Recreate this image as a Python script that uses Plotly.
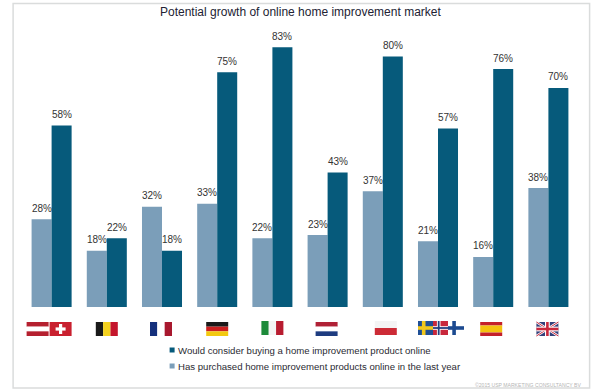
import plotly.graph_objects as go

categories = ["Austria / Switzerland", "Belgium", "France", "Germany", "Italy",
              "Netherlands", "Poland", "Nordics", "Spain", "United Kingdom"]
purchased = [28, 18, 32, 33, 22, 23, 37, 21, 16, 38]
consider = [58, 22, 18, 75, 83, 43, 80, 57, 76, 70]
purchased_name = "Has purchased home improvement products online in the last year"
consider_name = "Would consider buying a home improvement product online"
title_text = "Potential growth of online home improvement market"
credit_text = "©2015 USP MARKETING CONSULTANCY BV"

LIGHT = "#7b9eb9"
DARK = "#065a7b"
TEXT = "#333333"
FONT = "Liberation Sans, Arial, sans-serif"
W, H = 600, 391
L, R, T, B = 24.4, 23.6, 30, 84
PW = W - L - R
STEP = PW / len(categories)


def px(x):
    return (x - L) / PW


def py(y):
    return (H - B - y) / (H - T - B)


fig = go.Figure()
annotations = []
for name, vals, col, shift in [(purchased_name, purchased, LIGHT, -10), (consider_name, consider, DARK, 10)]:
    fig.add_bar(x=categories, y=vals, name=name, marker=dict(color=col, line_width=0), showlegend=False)
    for c, v in zip(categories, vals):
        annotations.append(dict(text=f"{v}%", x=c, y=v, xref="x", yref="y", xshift=shift, yshift=11,
                                xanchor="center", yanchor="middle", showarrow=False,
                                font=dict(family=FONT, size=10, color=TEXT)))

shapes = []


def rect(x0, y0, x1, y1, col):
    shapes.append(dict(type="rect", xref="paper", yref="paper", x0=px(x0), x1=px(x1),
                       y0=py(y0), y1=py(y1), fillcolor=col, line_width=0, layer="above"))


def line(x0, y0, x1, y1, col, w):
    shapes.append(dict(type="line", xref="paper", yref="paper", x0=px(x0), x1=px(x1),
                       y0=py(y0), y1=py(y1), line=dict(color=col, width=w), layer="above"))


def vstripes(x, y, w, h, cols):
    for i, c in enumerate(cols):
        rect(x + w * i / len(cols), y, x + w * (i + 1) / len(cols), y + h, c)


def hstripes(x, y, w, h, cols, fracs=None):
    fracs = fracs or [1 / len(cols)] * len(cols)
    t = y
    for c, f in zip(cols, fracs):
        rect(x, t, x + w, t + h * f, c)
        t += h * f


def nordic(x, y, w, h, bg, cross, inner=None):
    rect(x, y, x + w, y + h, bg)
    cx = x + w * 0.38
    cy = y + h / 2
    rect(cx - 1.8, y, cx + 1.8, y + h, cross)
    rect(x, cy - 1.8, x + w, cy + 1.8, cross)
    if inner:
        rect(cx - 0.9, y, cx + 0.9, y + h, inner)
        rect(x, cy - 0.9, x + w, cy + 0.9, inner)


def uk(x, y, w, h):
    rect(x, y, x + w, y + h, "#33407a")
    line(x, y, x + w, y + h, "#ffffff", 2.5)
    line(x, y + h, x + w, y, "#ffffff", 2.5)
    line(x, y, x + w, y + h, "#c8283c", 1)
    line(x, y + h, x + w, y, "#c8283c", 1)
    rect(x + w / 2 - 2.4, y, x + w / 2 + 2.4, y + h, "#ffffff")
    rect(x, y + h / 2 - 2.4, x + w, y + h / 2 + 2.4, "#ffffff")
    rect(x + w / 2 - 1.3, y, x + w / 2 + 1.3, y + h, "#c8283c")
    rect(x, y + h / 2 - 1.3, x + w, y + h / 2 + 1.3, "#c8283c")


def swiss(x, y, w, h):
    rect(x, y, x + w, y + h, "#c9202f")
    rect(x + w / 2 - 5, y + h / 2 - 1.6, x + w / 2 + 5, y + h / 2 + 1.6, "#ffffff")
    rect(x + w / 2 - 1.6, y + h / 2 - 5, x + w / 2 + 1.6, y + h / 2 + 5, "#ffffff")


def centre(i):
    return L + STEP * (i + 0.5)


FW, FH, FY = 22, 14, 322
hstripes(centre(0) - 25, FY, FW, FH, ["#b5202f", "#ffffff", "#b5202f"])
swiss(centre(0) - 2, FY, FW, FH)
vstripes(centre(1) - 11, FY, FW, FH, ["#1a1a1a", "#f4d21f", "#c4152c"])
vstripes(centre(2) - 12, FY, FW, FH, ["#14307c", "#ffffff", "#a8182e"])
hstripes(centre(3) - 11, FY, FW, FH, ["#1a1a1a", "#cc1f1f", "#f3c90f"])
vstripes(centre(4) - 11, FY - 1, FW, FH, ["#1d8a3a", "#f4f4f4", "#b81c30"])
hstripes(centre(5) - 12, FY, FW, FH, ["#b02136", "#ffffff", "#1e3c80"])
hstripes(centre(6) - 8, FY - 1, FW, FH, ["#f4f4f4", "#cc2b36"])
nordic(centre(7) - 20, FY - 1, 15, FH, "#1f4f96", "#f2c81c")
nordic(centre(7) - 5, FY - 1, 15, FH, "#c8283c", "#ffffff", "#24407f")
nordic(centre(7) + 10, FY - 1, 16, FH, "#ffffff", "#1c4a90")
hstripes(centre(8) - 13, FY, FW, FH, ["#c4202a", "#f4c20f", "#c4202a"], [0.25, 0.5, 0.25])
uk(centre(9) - 12, FY, FW, FH)

shapes.append(dict(type="rect", xref="paper", yref="paper", x0=px(13.5), x1=px(590), y0=py(3.5),
                   y1=py(388), line=dict(color="#dadcdc", width=1.5), fillcolor="rgba(0,0,0,0)",
                   layer="below"))

annotations += [
    dict(text=title_text, xref="paper", yref="paper", x=px(301), y=py(12), xanchor="center",
         yanchor="middle", showarrow=False, font=dict(family=FONT, size=12, color="#222233")),
    dict(text=credit_text, xref="paper", yref="paper", x=px(583), y=py(384.5), xanchor="right",
         yanchor="middle", showarrow=False, font=dict(family=FONT, size=5.1, color="#b5b5b5")),
]
for y, name, col in [(350, consider_name, DARK), (366, purchased_name, LIGHT)]:
    rect(170, y - 2.5, 175, y + 2.5, col)
    annotations.append(dict(text=name, xref="paper", yref="paper", x=px(176.5), y=py(y),
                            xanchor="left", yanchor="middle", showarrow=False,
                            font=dict(family=FONT, size=9.6, color="#2b2b33")))

fig.update_layout(
    width=W, height=H, autosize=False, barmode="group", bargap=0.275, bargroupgap=0,
    margin=dict(l=L, r=R, t=T, b=B, pad=0), paper_bgcolor="#ffffff", plot_bgcolor="#ffffff",
    showlegend=False, shapes=shapes, annotations=annotations,
    xaxis=dict(showticklabels=False, ticks="", showgrid=False, zeroline=False, showline=False),
    yaxis=dict(range=[0, 88.5], showticklabels=False, ticks="", showgrid=False, zeroline=False,
               showline=False),
)
fig.write_html("out.html", post_script="document.body.style.margin='0';",
               config={"displayModeBar": False})
